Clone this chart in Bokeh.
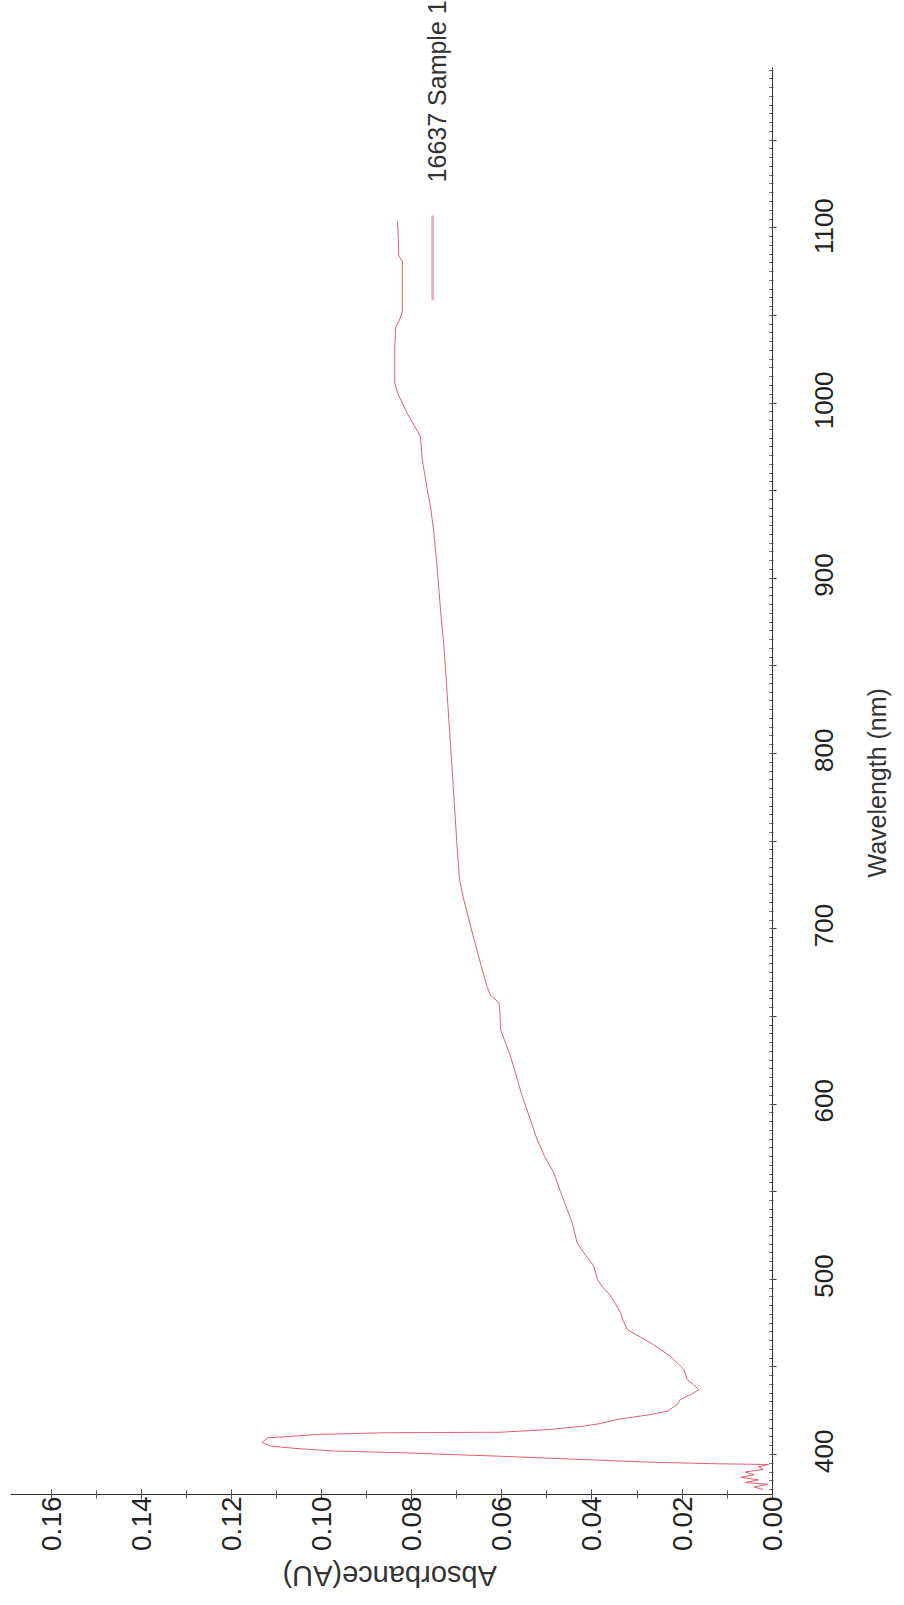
import math
from bokeh.plotting import figure
from bokeh.models import (Range1d, FixedTicker, Label, ColumnDataSource, PrintfTickFormatter,
                          LinearAxis)
from bokeh.embed import file_html
from bokeh.resources import INLINE

# ---- data ----
wavelength = [380, 381.5, 383, 384, 385.5, 387, 388.5, 390, 391.5, 393, 394.3, 394.7,
              395.6, 397.1, 399, 401, 402, 403.5, 404.7, 406, 406.8, 407.8, 409.5,
              411.4, 412.4, 412.7, 414.3, 416.2, 417.7, 420, 422.8, 424.7, 428.5,
              431.4, 434.2, 437, 440, 442.8, 445.5, 448.5, 452, 456, 460, 463.7,
              467.5, 471.3, 476, 481, 486, 491, 496, 500, 507.5, 514, 520.8, 526,
              532.2, 539.8, 550, 560.8, 570, 579.8, 592, 604.5, 616, 627.3, 642.5,
              650, 655, 658, 662, 667, 677, 694, 717, 728, 745, 765, 785, 805, 820,
              840, 859, 878, 907, 926, 940, 951, 968, 981, 994, 1006, 1012, 1030,
              1043, 1047, 1052, 1070, 1081, 1084, 1095, 1104]
absorbance = [0.002, 0.004, 0.001, 0.006, 0.003, 0.007, 0.004, 0.006, 0.002, 0.003, 0.0008, 0.012,
              0.027, 0.0418, 0.0603, 0.0825, 0.0973, 0.106, 0.111, 0.1125, 0.1132, 0.1128, 0.112,
              0.101, 0.0862, 0.0603, 0.0492, 0.0418, 0.0381, 0.0344, 0.027, 0.0233, 0.0211,
              0.0204, 0.0181, 0.0163, 0.0175, 0.0189, 0.0192, 0.0196, 0.021, 0.0226, 0.0248, 0.027,
              0.0296, 0.0322, 0.0330, 0.0337, 0.0348, 0.036, 0.0378, 0.0388, 0.0396, 0.0415, 0.0433, 0.0438,
              0.0444, 0.0455, 0.0470, 0.0485, 0.0505, 0.0522, 0.0538, 0.0555, 0.0568, 0.0581, 0.0603,
              0.0604, 0.0605, 0.0607, 0.0625, 0.0633, 0.0644, 0.0662, 0.0685, 0.0694, 0.0699, 0.0704, 0.0709, 0.0714, 0.0718,
              0.0723, 0.0728, 0.0735, 0.0744, 0.0751, 0.0758, 0.0766, 0.0777, 0.0781, 0.081, 0.0832, 0.0838, 0.0838,
              0.0836, 0.0828, 0.0821, 0.0821, 0.0821, 0.0829, 0.0830, 0.0832]

abs_ticks = [0.00, 0.02, 0.04, 0.06, 0.08, 0.10, 0.12, 0.14, 0.16]
abs_minor = [i / 100 for i in range(0, 17)]
wl_ticks = list(range(400, 1200, 50))
wl_minor = list(range(380, 1195, 5))
wl_labeled = [400, 500, 600, 700, 800, 900, 1000, 1100]
series_name = "16637 Sample 1"

# axis extents (data units)
ABS_AXIS = (0.0, 0.16903)
WL_AXIS = (377.2, 1191.7)

FONT = "Liberation Sans"
WL_FONT_PX = 26
PX_PER_NM = 1.7524

p = figure(width=896, height=1597, output_backend="svg", toolbar_location=None,
           x_range=Range1d(0.171299, -0.027592), y_range=Range1d(318.4, 1229.7),
           x_axis_location="below", y_axis_location="right",
           min_border=0, min_border_left=0, min_border_right=0,
           min_border_top=0, min_border_bottom=0)
p.outline_line_color = None
p.grid.visible = False
p.background_fill_color = "white"
p.border_fill_color = "white"

src = ColumnDataSource(dict(wl=wavelength, ab=absorbance))
p.line(x="ab", y="wl", source=src, line_color="#e0606c", line_width=1.0)

# legend (rotated like the reference)
p.segment(x0=[0.0754], y0=[1058.6], x1=[0.0754], y1=[1107.0], line_color="#f2a2b4", line_width=2.5)
p.add_layout(Label(x=0.0744, y=1125.9, text=series_name, angle=90, angle_units="deg",
                   text_align="left", text_baseline="middle", text_font=FONT,
                   text_font_size="25px", text_color="#333333"))

# ---------- absorbance axis (bottom) ----------
xa = p.xaxis[0]
xa.fixed_location = WL_AXIS[0]
xa.bounds = ABS_AXIS
xa.ticker = FixedTicker(ticks=abs_ticks, minor_ticks=abs_minor)
xa.formatter = PrintfTickFormatter(format="%.2f")
xa.major_label_orientation = math.pi / 2
xa.major_tick_in = 5
xa.major_tick_out = 5
xa.minor_tick_in = 4
xa.minor_tick_out = 4
xa.major_label_standoff = -3
xa.major_label_text_font = FONT
xa.major_label_text_font_size = "28px"
xa.major_label_text_color = "#222222"
xa.axis_line_color = "#333333"
xa.major_tick_line_color = "#333333"
xa.minor_tick_line_color = "#555555"

# axis title of the absorbance axis (upside down, like the reference)
xt = LinearAxis(fixed_location=WL_AXIS[0], bounds=(0.04837, 0.16903),
                ticker=FixedTicker(ticks=[]), axis_line_color=None,
                major_tick_line_color=None, minor_tick_line_color=None,
                major_tick_in=0, major_tick_out=0, minor_tick_in=0, minor_tick_out=0,
                axis_label="Absorbance(AU)", axis_label_text_font=FONT,
                axis_label_text_font_style="normal", axis_label_text_font_size="29px",
                axis_label_text_color="#333333", axis_label_standoff=81)
xt.axis_label_orientation = math.pi
p.add_layout(xt, "below")

# ---------- wavelength axis (right) ----------
ya = p.yaxis[0]
ya.fixed_location = ABS_AXIS[0]
ya.bounds = WL_AXIS
ya.ticker = FixedTicker(ticks=wl_ticks, minor_ticks=wl_minor)
ya.major_label_text_color = None
ya.major_tick_in = 2
ya.major_tick_out = 4
ya.minor_tick_in = 3
ya.minor_tick_out = 1
ya.axis_line_color = "#333333"
ya.major_tick_line_color = "#333333"
ya.minor_tick_line_color = "#555555"

# tick labels of the wavelength axis, centred on their ticks (rotated text is start-anchored)
def _shift(v):
    half_px = len(str(v)) * 0.556 * WL_FONT_PX / 2 - 3
    return v - round(half_px / PX_PER_NM * 2) / 2

wl_label_pos = [_shift(v) for v in wl_labeled]
yl = LinearAxis(fixed_location=ABS_AXIS[0], bounds=(318.4, 1229.7),
                ticker=FixedTicker(ticks=wl_label_pos), axis_line_color=None,
                major_tick_line_color=None, minor_tick_line_color=None,
                major_tick_in=0, major_tick_out=0, minor_tick_in=0, minor_tick_out=0,
                major_label_standoff=52, major_label_text_font=FONT,
                major_label_text_font_size=f"{WL_FONT_PX}px", major_label_text_color="#222222")
yl.major_label_overrides = {pos: str(v) for pos, v in zip(wl_label_pos, wl_labeled)}
yl.major_label_orientation = math.pi / 2
p.add_layout(yl, "right")

# axis title of the wavelength axis
yt = LinearAxis(fixed_location=ABS_AXIS[0], bounds=(377.2, 1081.4),
                ticker=FixedTicker(ticks=[]), axis_line_color=None,
                major_tick_line_color=None, minor_tick_line_color=None,
                major_tick_in=0, major_tick_out=0, minor_tick_in=0, minor_tick_out=0,
                axis_label="Wavelength (nm)", axis_label_text_font=FONT,
                axis_label_text_font_style="normal", axis_label_text_font_size="25px",
                axis_label_text_color="#333333", axis_label_standoff=104)
yt.axis_label_orientation = math.pi / 2
p.add_layout(yt, "right")

open("out.html", "w").write(file_html(p, INLINE))
